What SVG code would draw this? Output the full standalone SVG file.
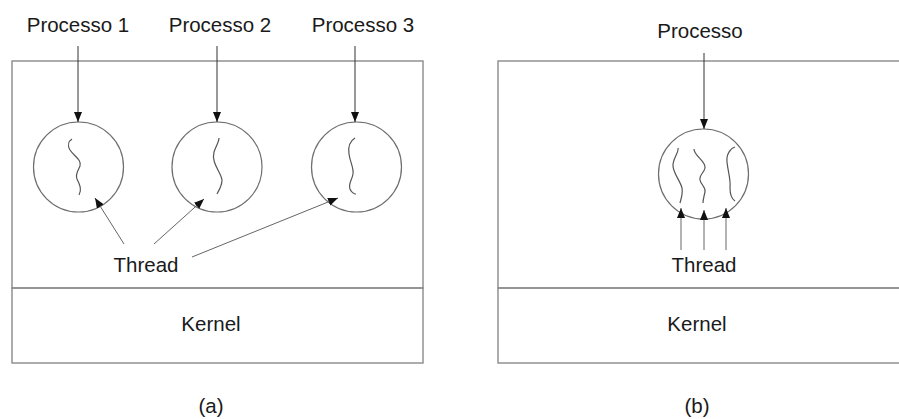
<svg xmlns="http://www.w3.org/2000/svg" width="899" height="419" viewBox="0 0 899 419">
<style>
.box{fill:none;stroke:#8a8a8a;stroke-width:1.4}
.circ{fill:none;stroke:#6e6e6e;stroke-width:1.2}
.th{fill:none;stroke:#555;stroke-width:1.2}
.ar{fill:none;stroke:#333;stroke-width:1;marker-end:url(#ah)}
.ar2{fill:none;stroke:#666;stroke-width:1;marker-end:url(#ah)}
text{font-family:"Liberation Sans",Arial,sans-serif;font-size:20.5px;fill:#1a1a1a;text-anchor:middle}
</style>
<defs>
<marker id="ah" markerUnits="userSpaceOnUse" markerWidth="12" markerHeight="10" refX="10" refY="4" orient="auto">
<path d="M0,0 L10,4 L0,8 Z" fill="#111"/>
</marker>
</defs>
<rect width="899" height="419" fill="#fff"/>
<g id="panel-a">
<g id="user-a"><rect class="box" x="12" y="61" width="411" height="227"/></g>
<g id="kernel-a"><rect class="box" x="12" y="288" width="411" height="75"/><text x="211" y="331">Kernel</text></g>
<g id="proc1"><text x="78" y="32">Processo 1</text><circle class="circ" cx="78.5" cy="167" r="45"/><path class="th" d="M72,139 C69,141 67,145 70,150 C74,156 82,160 80,166 C78,171 75,174 77,179 C80,185 82,190 79,195"/></g>
<g id="proc2"><text x="220" y="32">Processo 2</text><circle class="circ" cx="217" cy="167" r="45"/><path class="th" d="M219,138 C219,142 216,146 214,152 C211,163 221,172 222,180 C222,186 219,190 217,194"/></g>
<g id="proc3"><text x="363" y="32">Processo 3</text><circle class="circ" cx="356.5" cy="167" r="45"/><path class="th" d="M355,138 C350,141 348,147 349,154 C350,162 354,168 353,174 C352,180 348,184 350,189 C351,192 354,194 356,194"/></g>
<g id="thread-a"><text x="146" y="272">Thread</text></g>
<text x="211" y="413">(a)</text>
</g>
<g id="panel-b">
<g id="user-b"><rect class="box" x="498" y="61" width="410" height="227"/></g>
<g id="kernel-b"><rect class="box" x="498" y="288" width="410" height="75"/><text x="697" y="331">Kernel</text></g>
<g id="proc-b"><text x="700" y="38">Processo</text><circle class="circ" cx="703.5" cy="174" r="45"/>
<path class="th" d="M678,148 C679,152 674,157 673,164 C672,172 680,180 682,188 C683,194 681,199 680,203"/>
<path class="th" d="M694,149 C694,156 706,161 705,168 C704,173 699,175 700,180 C701,185 706,187 705,192 C704,196 703,200 703,203"/>
<path class="th" d="M735,147 C731,148 726,154 727,162 C728,172 731,180 730,188 C730,195 732,199 735,201"/>
</g>
<g id="thread-b"><text x="704" y="272">Thread</text></g>
<text x="697" y="413">(b)</text>
</g>
<g id="connectors">
<line class="ar" x1="78" y1="46" x2="78" y2="122"/>
<line class="ar" x1="217" y1="46" x2="217" y2="122"/>
<line class="ar" x1="355" y1="46" x2="355" y2="122"/>
<line class="ar2" x1="124" y1="244" x2="95" y2="198"/>
<line class="ar2" x1="154" y1="244" x2="204" y2="199"/>
<line class="ar2" x1="192" y1="257" x2="338" y2="198"/>
<line class="ar" x1="704" y1="53" x2="704" y2="129"/>
<line class="ar2" x1="681" y1="250" x2="681" y2="208"/>
<line class="ar2" x1="704" y1="250" x2="704" y2="210"/>
<line class="ar2" x1="726" y1="250" x2="726" y2="208"/>
</g>
</svg>
